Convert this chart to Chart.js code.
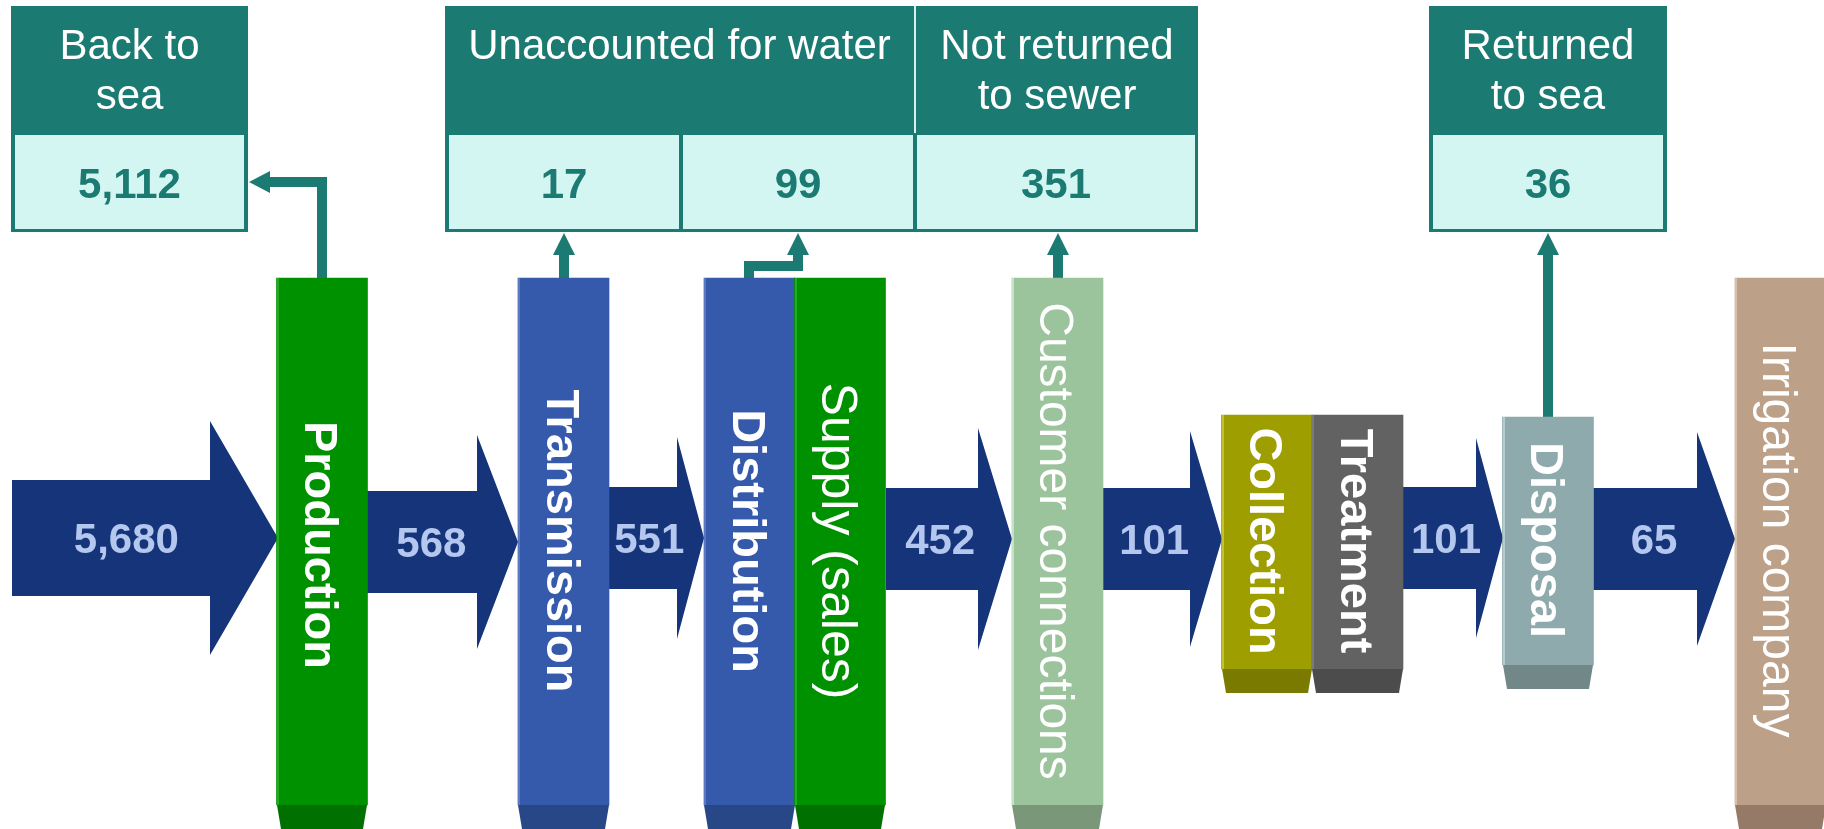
<!DOCTYPE html>
<html><head><meta charset="utf-8">
<script src="https://cdn.jsdelivr.net/npm/chart.js@4/dist/chart.umd.min.js"></script>
<style>html,body{margin:0;padding:0;background:#fff;overflow:hidden}#wrap{width:1824px;height:829px;position:relative}</style>
</head><body><div id="wrap"><canvas id="c"></canvas></div>
<script>
// ---------------- data ----------------
const stages = ['Production','Transmission','Distribution','Supply (sales)','Customer connections','Collection','Treatment','Disposal','Irrigation company'];
const flowValues = [5680, 568, 551, 452, 101, 101, 65];
const lossGroups = ['Back to sea','Unaccounted for water','Not returned to sewer','Returned to sea'];
const lossValues = [5112, 17, 99, 351, 36];
const lossGroupOf = [0, 1, 1, 2, 3];
const lossSourceStage = [0, 1, 2, 4, 7];

// ---------------- layout (scale units) ----------------
const stageX0 = [277, 518, 704, 795, 1012, 1222, 1312, 1503, 1735];
const stageX1 = [367, 609, 795, 885, 1103, 1312, 1403, 1593, 1826];
const stageTop = [278, 278, 278, 278, 278, 415, 415, 417, 278];
const stageBottom = [829, 829, 829, 829, 829, 693, 693, 689, 829];
const stageTextY = [545, 541, 541, 541, 541, 541, 541, 540, 540];
const bevelH = 24, bevelInset = 4;
const stageColors = ['#009100','#3559ab','#3559ab','#009100','#9cc49c','#9e9e00','#626262','#8faaac','#bda088'];
const bevelColors = ['#007100','#284787','#284787','#007100','#7a977a','#7a7a00','#4c4c4c','#718788','#957a68'];
const stageEdge = ['#22aa22','#5a78c0','#5a78c0','#22aa22','#c6e2c6','#c2c233','#7a7a7a','#b6cccc','#d8c0aa'];
const stageBold = [true, true, true, false, false, true, true, true, false];
const stageFontSize = [47, 47, 47, 50, 48, 47, 47, 47, 48];

// flow arrows: start, head start, tip, centre y, body half height, head half height
const arrX0 = [12, 366, 608, 886, 1103, 1403, 1593];
const arrXH = [210, 477, 677, 978, 1190, 1476, 1697];
const arrTip = [278, 518, 704, 1012, 1222, 1503, 1735];
const arrCY = [538, 542, 538, 539, 539, 538, 539];
const arrBH = [58, 51, 51, 51, 51, 51, 51];
const arrHH = [117, 107, 101, 111, 108, 100, 107];

// loss boxes
const boxOuter = [[11, 248], [445, 1198], [445, 1198], [1429, 1667]];
const headerX = [[11, 248], [445, 914], [916, 1198], [1429, 1667]];
const headerLines = [['Back to', 'sea'], ['Unaccounted for water'], ['Not returned', 'to sewer'], ['Returned', 'to sea']];
const cellX = [[15, 244], [449, 679], [683, 913], [917, 1195], [1433, 1663]];
const boxTop = 6, headerBottom = 133, cellTop = 135, cellBottom = 229, boxBottom = 232;
// connectors (polyline from stage top to the value cell)
const connectors = [
  [[322, 278], [322, 182], [270, 182]],
  [[564, 278], [564, 255]],
  [[749, 278], [749, 266], [798, 266], [798, 255]],
  [[1058, 278], [1058, 255]],
  [[1548, 417], [1548, 255]]
];
const connectorTip = [[249, 182], [564, 233], [798, 233], [1058, 233], [1548, 233]];

const TEAL = '#1b7b72', CELL = '#d4f6f2', NAVY = '#15347a', ARROWTXT = '#b4c7ef';
const FONT = '"Liberation Sans", Arial, sans-serif';
const fmt = v => v.toLocaleString('en-US');

const flowPlugin = {
  id: 'flow',
  beforeDatasetsDraw(chart) {
    const ctx = chart.ctx, X = v => chart.scales.x.getPixelForValue(v), Y = v => chart.scales.y.getPixelForValue(v);
    ctx.save();
    // flow arrows
    flowValues.forEach((v, i) => {
      const cy = arrCY[i];
      ctx.beginPath();
      ctx.moveTo(X(arrX0[i]), Y(cy - arrBH[i]));
      ctx.lineTo(X(arrXH[i]), Y(cy - arrBH[i]));
      ctx.lineTo(X(arrXH[i]), Y(cy - arrHH[i]));
      ctx.lineTo(X(arrTip[i]), Y(cy));
      ctx.lineTo(X(arrXH[i]), Y(cy + arrHH[i]));
      ctx.lineTo(X(arrXH[i]), Y(cy + arrBH[i]));
      ctx.lineTo(X(arrX0[i]), Y(cy + arrBH[i]));
      ctx.closePath();
      ctx.fillStyle = NAVY; ctx.fill();
      ctx.fillStyle = ARROWTXT;
      ctx.font = 'bold 42px ' + FONT;
      ctx.textAlign = 'center'; ctx.textBaseline = 'alphabetic';
      ctx.fillText(fmt(v), X(arrX0[i] + 0.43 * (arrTip[i] - arrX0[i])), Y(cy + 15));
    });
    // loss boxes
    const drawn = {};
    boxOuter.forEach((b, g) => {
      const k = b.join(',');
      if (!drawn[k]) {
        drawn[k] = 1;
        ctx.fillStyle = TEAL;
        ctx.fillRect(X(b[0]), Y(boxTop), X(b[1]) - X(b[0]), Y(boxBottom) - Y(boxTop));
      }
    });
    // header separator
    ctx.fillStyle = '#d8efec';
    ctx.fillRect(X(914), Y(boxTop), X(916) - X(914), Y(headerBottom) - Y(boxTop));
    ctx.fillStyle = '#ffffff';
    ctx.font = '42px ' + FONT;
    ctx.textAlign = 'center'; ctx.textBaseline = 'alphabetic';
    lossGroups.forEach((name, g) => {
      const cx = X((headerX[g][0] + headerX[g][1]) / 2);
      headerLines[g].forEach((ln, j) => ctx.fillText(ln, cx, Y(59 + j * 50)));
    });
    lossValues.forEach((v, i) => {
      const c = cellX[i];
      ctx.fillStyle = CELL;
      ctx.fillRect(X(c[0]), Y(cellTop), X(c[1]) - X(c[0]), Y(cellBottom) - Y(cellTop));
      ctx.fillStyle = TEAL;
      ctx.font = 'bold 42px ' + FONT;
      ctx.fillText(fmt(v), X((c[0] + c[1]) / 2), Y(198));
    });
    // connectors
    connectors.forEach((pts, i) => {
      ctx.strokeStyle = TEAL; ctx.lineWidth = 10; ctx.lineJoin = 'miter'; ctx.lineCap = 'butt';
      ctx.beginPath();
      pts.forEach((p, j) => j ? ctx.lineTo(X(p[0]), Y(p[1])) : ctx.moveTo(X(p[0]), Y(p[1])));
      ctx.stroke();
      const last = pts[pts.length - 1], tip = connectorTip[i];
      ctx.fillStyle = TEAL;
      ctx.beginPath();
      if (tip[0] === last[0]) { // vertical head
        ctx.moveTo(X(tip[0]), Y(tip[1]));
        ctx.lineTo(X(last[0] + 11), Y(last[1]));
        ctx.lineTo(X(last[0] - 11), Y(last[1]));
      } else {
        ctx.moveTo(X(tip[0]), Y(tip[1]));
        ctx.lineTo(X(last[0]), Y(last[1] - 11));
        ctx.lineTo(X(last[0]), Y(last[1] + 11));
      }
      ctx.closePath(); ctx.fill();
    });
    ctx.restore();
  },
  afterDatasetsDraw(chart) {
    const ctx = chart.ctx, X = v => chart.scales.x.getPixelForValue(v), Y = v => chart.scales.y.getPixelForValue(v);
    ctx.save();
    stages.forEach((s, i) => {
      const x0 = stageX0[i], x1 = stageX1[i], yb = stageBottom[i] - bevelH;
      // left highlight
      ctx.fillStyle = stageEdge[i];
      ctx.fillRect(X(x0), Y(stageTop[i]), 2, Y(yb) - Y(stageTop[i]));
      // bevel
      ctx.fillStyle = bevelColors[i];
      ctx.beginPath();
      ctx.moveTo(X(x0), Y(yb)); ctx.lineTo(X(x1), Y(yb));
      ctx.lineTo(X(x1 - bevelInset), Y(stageBottom[i])); ctx.lineTo(X(x0 + bevelInset), Y(stageBottom[i]));
      ctx.closePath(); ctx.fill();
      // rotated label
      const fs = stageFontSize[i];
      ctx.save();
      ctx.translate(X((x0 + x1) / 2), Y(stageTextY[i]));
      ctx.rotate(Math.PI / 2);
      ctx.font = (stageBold[i] ? 'bold ' : '') + fs + 'px ' + FONT;
      ctx.fillStyle = '#ffffff';
      ctx.textAlign = 'center'; ctx.textBaseline = 'alphabetic';
      ctx.fillText(s, 0, fs * 0.716 / 2);
      ctx.restore();
    });
    ctx.restore();
  }
};

new Chart(document.getElementById('c'), {
  type: 'bar',
  data: {
    datasets: [{
      label: 'Stages',
      data: stages.map((s, i) => ({ x: (stageX0[i] + stageX1[i]) / 2, y: [stageBottom[i] - bevelH, stageTop[i]] })),
      backgroundColor: stageColors,
      borderWidth: 0,
      barThickness: 91
    }]
  },
  options: {
    responsive: true, maintainAspectRatio: false, devicePixelRatio: 1, animation: false,
    layout: { padding: 0 },
    plugins: { legend: { display: false }, tooltip: { enabled: false } },
    scales: {
      x: { type: 'linear', min: 0, max: 1824, display: false, offset: false },
      y: { type: 'linear', min: 0, max: 829, reverse: true, display: false }
    }
  },
  plugins: [flowPlugin]
});
</script></body></html>
